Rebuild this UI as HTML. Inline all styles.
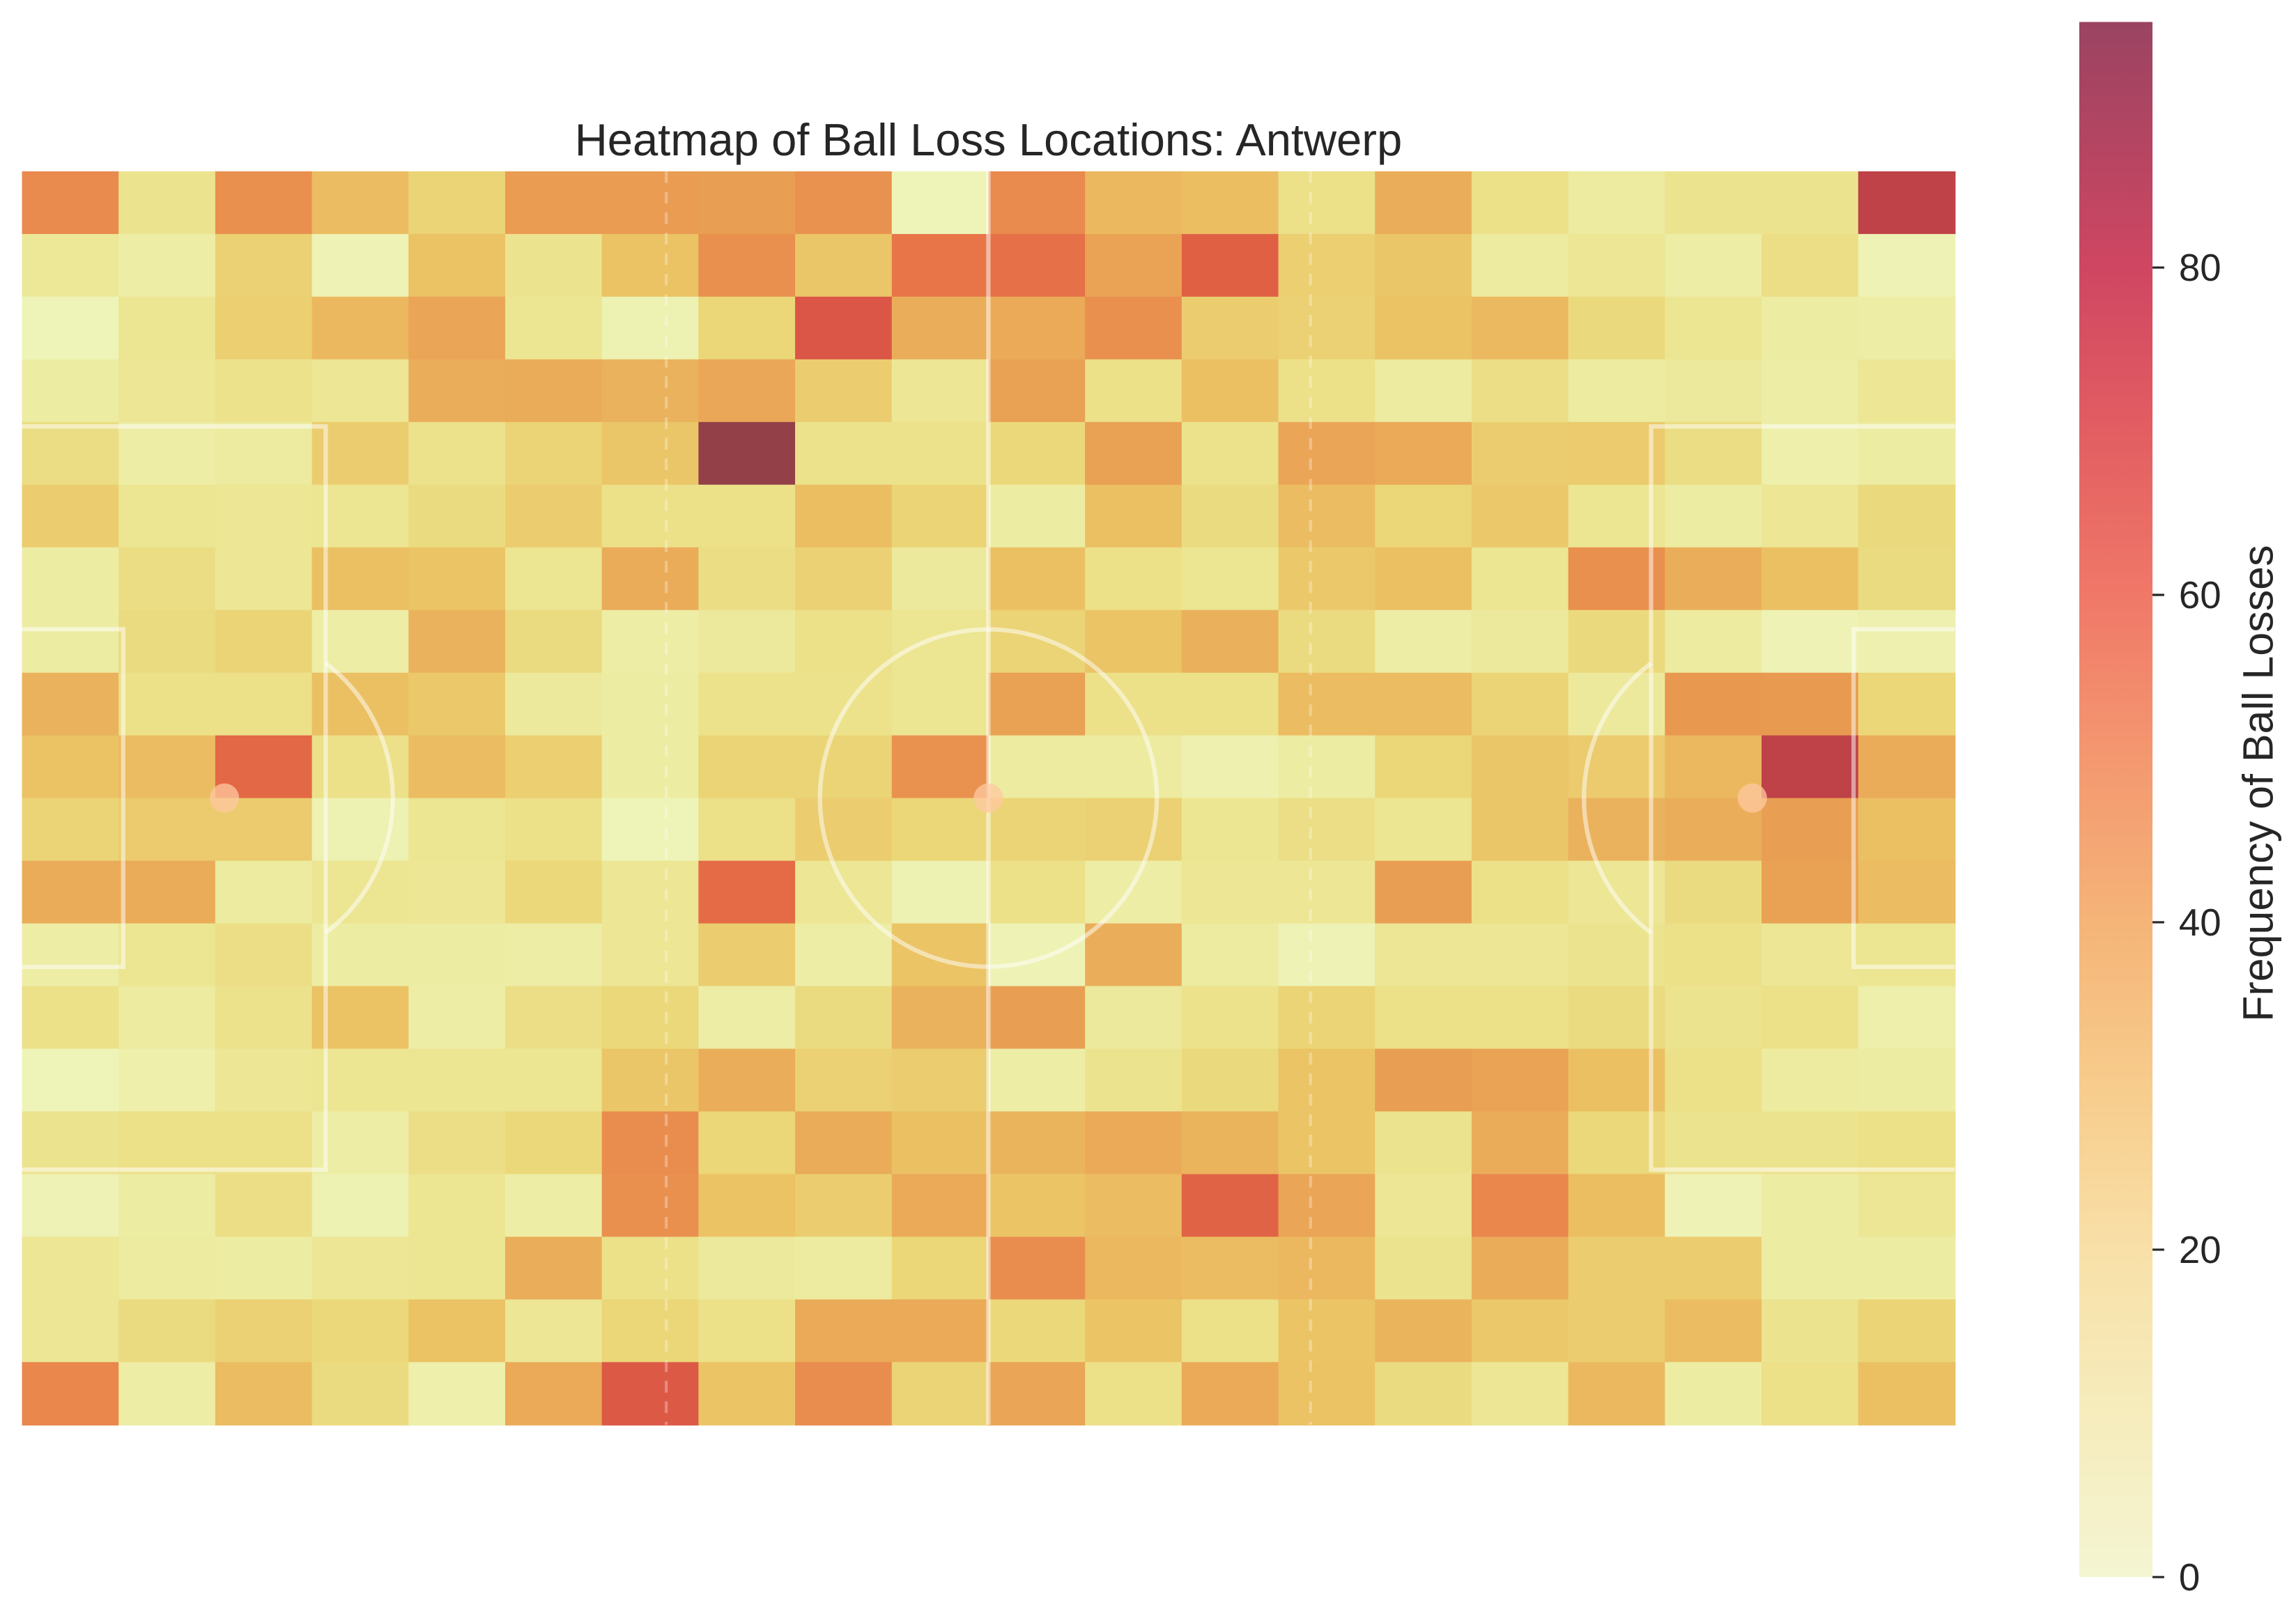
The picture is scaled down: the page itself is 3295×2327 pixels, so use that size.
<!DOCTYPE html>
<html><head><meta charset="utf-8"><style>
html,body{margin:0;padding:0;background:#fff;}
svg{display:block;font-family:"Liberation Sans",sans-serif;}
</style></head><body>
<svg id="chart" width="3295" height="2327" viewBox="0 0 1568 1107" preserveAspectRatio="none" xmlns="http://www.w3.org/2000/svg">
<defs><linearGradient id="cbgrad" x1="0" y1="1" x2="0" y2="0"></linearGradient></defs>
<text x="675" y="106" font-size="31" text-anchor="middle" fill="#262626">Heatmap of Ball Loss Locations: Antwerp</text>
<g id="cells"></g>
<g id="pitch" fill="none" stroke="#ffffff" stroke-opacity="0.5" stroke-width="3"></g>
<g id="cbar"></g>
<text x="0" y="0" font-size="29" text-anchor="middle" fill="#262626" transform="translate(1552,535) rotate(-90)">Frequency of Ball Losses</text>
</svg>
<script>
const rowCount = 20;
const colCount = 20;
const vmin = 0;
const vmax = 95;
const cbTicks = [0, 20, 40, 60, 80];
const values = [
[55,13,53,33,22,48,48,47,52,1,55,35,32,15,40,15,8,13,13,85],
[10,6,23,2,30,13,30,53,28,62,64,45,70,24,28,8,11,6,16,2],
[1,12,24,35,44,12,3,21,74,40,42,53,25,23,30,34,19,12,7,6],
[7,11,14,11,40,41,38,43,25,11,46,15,31,15,8,16,8,9,6,11],
[17,6,8,25,14,22,28,95,14,14,20,46,14,44,42,25,26,17,5,7],
[25,12,11,12,18,25,15,15,32,22,7,31,18,33,21,27,12,7,11,19],
[7,17,11,31,29,12,41,17,23,9,31,15,12,27,31,12,53,40,31,18],
[7,18,22,6,38,18,6,9,15,12,22,29,39,18,6,9,19,8,2,4],
[38,15,15,31,27,9,7,14,14,12,46,15,15,33,33,22,9,50,49,21],
[30,33,67,15,33,24,7,22,22,52,8,8,4,7,21,28,26,35,85,41],
[22,26,26,3,12,15,1,15,25,21,22,23,12,16,12,28,38,40,47,31],
[41,41,8,12,11,20,11,66,11,3,15,6,11,11,47,15,11,18,46,33],
[6,12,16,7,7,6,11,25,6,29,2,40,8,2,11,11,13,15,11,12],
[15,8,14,30,6,16,20,6,18,38,47,9,14,22,15,15,18,13,15,5],
[1,5,11,12,12,12,28,40,23,25,6,13,19,29,47,45,31,15,8,7],
[13,15,15,6,16,20,54,21,41,31,37,42,37,29,13,41,20,13,13,15],
[2,7,16,3,12,6,53,30,25,42,29,33,69,44,11,56,32,2,7,11],
[11,8,7,11,12,40,15,9,8,21,54,35,33,35,13,41,25,25,7,7],
[11,18,23,20,30,11,21,15,42,42,20,29,15,29,37,27,25,33,13,22],
[56,6,33,18,5,42,73,29,54,22,44,15,42,30,18,11,35,7,15,31]
];
const cmapStops = [[0,"#eef5bc"],[10,"#ece898"],[20,"#ebd87a"],[30,"#ebc264"],[40,"#eaae5a"],[50,"#e99850"],[55,"#e98a4e"],[62,"#e87548"],[70,"#e06044"],[78,"#d64c48"],[85,"#be4248"],[95,"#944048"]];
const cbStops = [[0,"#f4f5d2"],[10,"#f6ecbc"],[20,"#f8e0a8"],[30,"#f7cc8c"],[40,"#f5b478"],[50,"#f49870"],[60,"#f07868"],[70,"#e25e62"],[80,"#cf4662"],[95,"#9a4462"]];
function hex(c){return [parseInt(c.substr(1,2),16),parseInt(c.substr(3,2),16),parseInt(c.substr(5,2),16)];}
function cmap(v){
  v=Math.max(vmin,Math.min(vmax,v));
  for(let i=0;i<cmapStops.length-1;i++){
    const a=cmapStops[i],b=cmapStops[i+1];
    if(v<=b[0]){const t=(v-a[0])/(b[0]-a[0]);const ca=hex(a[1]),cb=hex(b[1]);
      return "rgb("+ca.map((x,k)=>Math.round(x+(cb[k]-x)*t)).join(",")+")";}
  }
  return cmapStops[cmapStops.length-1][1];
}
const NS="http://www.w3.org/2000/svg";
const X0=15,X1=1335,Y0=117,Y1=973;
const xScale=c=>X0+(X1-X0)*c/colCount;
const yScale=r=>Y0+(Y1-Y0)*r/rowCount;
const cells=document.getElementById('cells');
values.forEach((row,r)=>row.forEach((v,c)=>{
  const el=document.createElementNS(NS,'rect');
  
  
  el.setAttribute('x',xScale(c));el.setAttribute('y',yScale(r));
  el.setAttribute('width',xScale(c+1)-xScale(c)+0.5);el.setAttribute('height',yScale(r+1)-yScale(r)+0.5);
  el.setAttribute('fill',cmap(v));
  cells.appendChild(el);
}));
const px=m=>X0+(X1-X0)*m/105, py=m=>Y0+(Y1-Y0)*m/68;
const pitch=document.getElementById('pitch');
function add(tag,attrs,name){const e=document.createElementNS(NS,tag);for(const k in attrs)e.setAttribute(k,attrs[k]);
  
  
  pitch.appendChild(e);return e;}
add('line',{x1:px(52.5),y1:Y0,x2:px(52.5),y2:Y1},'halfway-line');
add('line',{x1:px(35),y1:Y0,x2:px(35),y2:Y1,'stroke-dasharray':'8,6','stroke-width':2,'stroke-opacity':0.3},'third-line-left');
add('line',{x1:px(70),y1:Y0,x2:px(70),y2:Y1,'stroke-dasharray':'8,6','stroke-width':2,'stroke-opacity':0.3},'third-line-right');
add('ellipse',{cx:px(52.5),cy:py(34),rx:px(9.15)-X0,ry:py(9.15)-Y0},'center-circle');
add('path',{d:`M${X0} ${py(13.84)} H${px(16.5)} V${py(54.16)} H${X0}`},'left-penalty-box');
add('path',{d:`M${X1} ${py(13.84)} H${px(88.5)} V${py(54.16)} H${X1}`},'right-penalty-box');
add('path',{d:`M${X0} ${py(24.84)} H${px(5.5)} V${py(43.16)} H${X0}`},'left-six-yard-box');
add('path',{d:`M${X1} ${py(24.84)} H${px(99.5)} V${py(43.16)} H${X1}`},'right-six-yard-box');
const rx=px(9.15)-X0, ry=py(9.15)-Y0;
add('path',{d:`M${px(16.5)} ${py(34-7.31)} A${rx} ${ry} 0 0 1 ${px(16.5)} ${py(34+7.31)}`},'left-penalty-arc');
add('path',{d:`M${px(88.5)} ${py(34-7.31)} A${rx} ${ry} 0 0 0 ${px(88.5)} ${py(34+7.31)}`},'right-penalty-arc');
[[11,'left-penalty-spot'],[52.5,'center-spot'],[94,'right-penalty-spot']].forEach(s=>add('circle',{cx:px(s[0]),cy:py(34),r:10,fill:'#ffc8a0','fill-opacity':0.75,stroke:'none'},s[1]));
const grad=document.getElementById('cbgrad');
cbStops.forEach(s=>{const st=document.createElementNS(NS,'stop');st.setAttribute('offset',(s[0]-vmin)/(vmax-vmin));st.setAttribute('stop-color',s[1]);grad.appendChild(st);});
const CB0=15,CB1=1077,CBX=1420,CBW=50;
const cbY=v=>CB1-(CB1-CB0)*(v-vmin)/(vmax-vmin);
const cbar=document.getElementById('cbar');
const cb=document.createElementNS(NS,'rect');


cb.setAttribute('x',CBX);cb.setAttribute('y',CB0);cb.setAttribute('width',CBW);cb.setAttribute('height',CB1-CB0);cb.setAttribute('fill','url(#cbgrad)');
cbar.appendChild(cb);
cbTicks.forEach(t=>{
  const l=document.createElementNS(NS,'line');
  
  
  l.setAttribute('x1',CBX+CBW);l.setAttribute('x2',CBX+CBW+8);l.setAttribute('y1',cbY(t));l.setAttribute('y2',cbY(t));l.setAttribute('stroke','#262626');l.setAttribute('stroke-width',1.5);
  cbar.appendChild(l);
  const tx=document.createElementNS(NS,'text');
  
  
  tx.setAttribute('x',CBX+CBW+18);tx.setAttribute('y',cbY(t)+9);tx.setAttribute('font-size',26);tx.setAttribute('fill','#262626');
  tx.textContent=t;cbar.appendChild(tx);
});
</script>
</body></html>
